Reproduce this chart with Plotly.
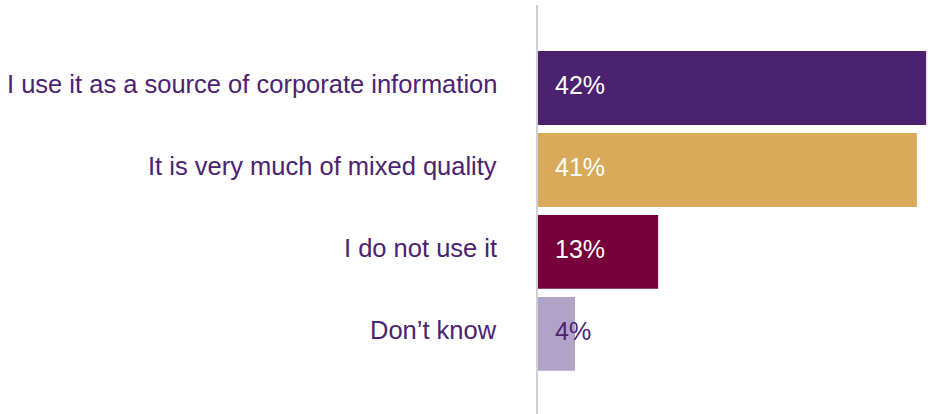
import plotly.graph_objects as go

# Survey responses and their shares (%)
categories = [
    "I use it as a source of corporate information",
    "It is very much of mixed quality",
    "I do not use it",
    "Don\u2019t know",
]
values = [42, 41, 13, 4]
bar_colors = ["#4B2270", "#D9AA5A", "#75003C", "#B1A3C8"]
label_colors = ["#FFFFFF", "#FFFFFF", "#FFFFFF", "#4B2270"]

FONT = "Liberation Sans, Arial, sans-serif"
PURPLE = "#4B2270"

fig = go.Figure(
    go.Bar(
        x=values,
        y=categories,
        orientation="h",
        marker=dict(color=bar_colors, line=dict(width=0)),
        width=0.9,
        hoverinfo="skip",
    )
)

for cat, val, col in zip(categories, values, label_colors):
    # Value label just inside the start of each bar
    fig.add_annotation(
        x=0, y=cat, xref="x", yref="y",
        text=f"{val}%", showarrow=False,
        xanchor="left", yanchor="middle", xshift=15, yshift=3,
        font=dict(family=FONT, size=25, color=col),
    )
    # Category label, right-aligned left of the axis line
    fig.add_annotation(
        x=0, y=cat, xref="paper", yref="y",
        text=cat, showarrow=False,
        xanchor="right", yanchor="middle", xshift=-39, yshift=4,
        font=dict(family=FONT, size=25.5, color=PURPLE),
    )

fig.update_layout(
    width=928, height=414,
    margin=dict(l=538, r=0, t=5, b=0),
    paper_bgcolor="white", plot_bgcolor="white",
    showlegend=False,
    font=dict(family=FONT, size=25, color=PURPLE),
)
fig.update_xaxes(
    range=[0, 42.2], visible=False, fixedrange=True,
)
fig.update_yaxes(
    type="category",
    range=[3.976, -1.012],
    showgrid=False, zeroline=False,
    showline=True, linecolor="#D0D0D0", linewidth=1.5,
    ticks="", showticklabels=False,
)

fig.write_html("out.html")
